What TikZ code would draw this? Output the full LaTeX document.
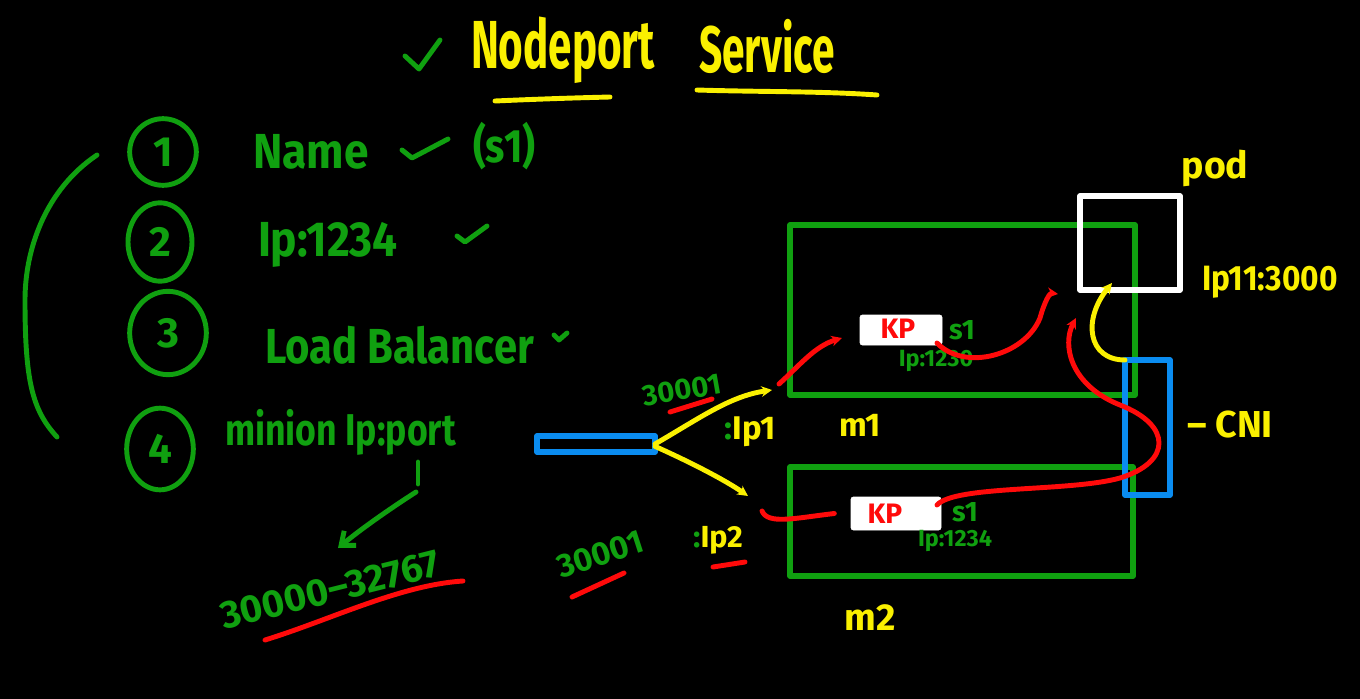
\documentclass[tikz,border=0pt]{standalone}
\usepackage{fontspec}
\setmainfont{Fira Sans}
\usetikzlibrary{shapes.geometric,arrows.meta}
\definecolor{hgreen}{RGB}{16,160,16}
\definecolor{hyellow}{RGB}{250,240,0}
\definecolor{hred}{RGB}{255,10,10}
\definecolor{hblue}{RGB}{10,140,240}
\begin{document}
\begin{tikzpicture}[x=0.03cm,y=-0.03cm,line cap=round,line join=round,
  pen/.style={line width=4.2pt},
  gpen/.style={pen,draw=hgreen},
  ypen/.style={pen,draw=hyellow},
  rpen/.style={pen,draw=hred},
  tipy/.style={-{Stealth[length=9pt,width=9pt]}},
  tipr/.style={-{Stealth[length=9pt,width=9pt]}},
  txt/.style={inner sep=0pt,outer sep=0pt,font=\bfseries\fontsize{#1}{#1}\selectfont},
  gtxt/.style={txt=#1,text=hgreen},
  ytxt/.style={txt=#1,text=hyellow},
  rtxt/.style={txt=#1,text=hred},
  num/.style={ellipse,draw=hgreen,line width=4.2pt,inner sep=0pt,text=hgreen,
    font=\bfseries\fontsize{36}{36}\selectfont},
  box/.style={rectangle,inner sep=0pt,outer sep=0pt,line width=4.8pt},
  machine/.style={box,draw=hgreen},
  kpbox/.style={box,fill=white,draw=white,line width=0.5pt,rounded corners=2pt},
]
\useasboundingbox (0,0) rectangle (1360,699);
\fill[black] (0,0) rectangle (1360,699);

% ---------- title ----------
\draw[gpen] (405,56) -- (419,69) -- (440,40);
\node[ytxt=58,xscale=0.62,transform shape] (ttl1) at (563,50) {Nodeport};
\node[ytxt=56,xscale=0.62,transform shape] (ttl2) at (767,46) {Service};
\draw[ypen] (495,101) .. controls (540,99) and (570,98) .. (610,97);
\draw[ypen] (697,90) .. controls (760,92) and (820,91) .. (877,95);

% ---------- left list ----------
\draw[gpen] (97,155) .. controls (45,190) and (25,250) .. (25,300)
               .. controls (25,380) and (32,410) .. (57,437);
\node[num,minimum width=2.0cm,minimum height=2.0cm] (n1) at (163,152) {1};
\node[num,minimum width=1.92cm,minimum height=2.35cm] (n2) at (160,242) {2};
\node[num,minimum width=2.3cm,minimum height=2.5cm] (n3) at (168,333) {3};
\node[num,minimum width=2.0cm,minimum height=2.45cm] (n4) at (160,449) {4};

\node[gtxt=42,anchor=west,xscale=0.9,transform shape] (t1) at (253,152) {Name};
\draw[gpen] (402,150) -- (412,158) -- (448,139);
\node[gtxt=40,anchor=west,xscale=0.85,transform shape] (t1b) at (473,146) {(s1)};

\node[gtxt=42,anchor=west,xscale=0.9,transform shape] (t2) at (258,245) {Ip:1234};
\draw[gpen] (457,236) -- (465,242) -- (487,226);

\node[gtxt=42,anchor=west,xscale=0.85,transform shape] (t3) at (265,345) {Load Balancer};
\draw[gpen] (554,335) -- (559,340) -- (567,333);

\node[gtxt=38,anchor=west,xscale=0.8,transform shape] (t4) at (225,432) {minion Ip:port};

\coordinate (a4top) at (418,462);
\coordinate (a4mid) at (418,484);
\coordinate (a4bend) at (416,492);
\coordinate (a4tip) at (338,548);
\draw[gpen] (a4top) -- (a4mid);
\draw[gpen,-{Straight Barb[length=10pt,width=16pt]}] (a4bend) .. controls (385,512) and (360,530) .. (a4tip);

\node[gtxt=33,rotate=14] (range) at (330,590) {30000--32767};
\draw[rpen] (265,640) .. controls (330,620) and (400,585) .. (463,581);

% ---------- load balancer and machines ----------
\node[box,draw=hblue,minimum width=3.54cm,minimum height=0.48cm] (lb) at (596,444) {};
\node[machine,minimum width=10.35cm,minimum height=5.1cm] (m1) at (962.5,310) {};
\node[machine,minimum width=10.29cm,minimum height=3.27cm] (m2) at (961.5,521.5) {};
\node[kpbox,minimum width=2.46cm,minimum height=0.9cm] (kp1) at (901,330) {};
\node[kpbox,minimum width=2.7cm,minimum height=0.99cm] (kp2) at (896,513.5) {};
\node[rtxt=24] (kp1t) at (898,329) {KP};
\node[rtxt=24] (kp2t) at (885,514) {KP};
\node[box,draw=white,minimum width=3cm,minimum height=2.82cm] (pod) at (1130,243) {};
\node[box,draw=hblue,minimum width=1.35cm,minimum height=4.05cm] (cni) at (1147.5,427.5) {};

\node[gtxt=24] (s1a) at (962,330) {s1};
\node[gtxt=20] (ipa) at (936,361) {Ip:1230};
\node[gtxt=24] (s1b) at (965,512) {s1};
\node[gtxt=20] (ipb) at (955,541) {Ip:1234};

\node[ytxt=28] (m1l) at (860,425) {m1};
\node[ytxt=32] (m2l) at (870,618) {m2};
\node[ytxt=32] (podl) at (1215,168) {pod};
\node[ytxt=30,xscale=0.9,transform shape] (podip) at (1270,282) {Ip11:3000};
\node[ytxt=32] (cnil) at (1230,425) {-- CNI};

\node[gtxt=25,rotate=10] (p1) at (682,390) {30001};
\draw[rpen] (670,412) -- (712,399);
\node[ytxt=28] (ip1l) at (750,432) {{\color{hgreen}:}Ip1};
\node[ytxt=26] (ip2l) at (718,540) {{\color{hgreen}:}Ip2};
\draw[rpen] (713,567) -- (745,562);
\node[gtxt=28,rotate=18] (p2) at (600,554) {30001};
\draw[rpen] (572,597) -- (624,573);

% ---------- connectors ----------
\coordinate (ip1end) at (772,390);
\coordinate (ip2end) at (748,496);
\draw[ypen,tipy] (lb.east) .. controls (700,418) and (730,396) .. (ip1end);
\draw[ypen,tipy] ([yshift=-2pt]lb.east) .. controls (690,462) and (725,480) .. (ip2end);

\coordinate (r1s) at (779,384);
\coordinate (r1e) at (842,338);
\draw[rpen,tipr] (r1s) .. controls (800,365) and (815,346) .. (r1e);

\coordinate (r2s) at (937,343);
\coordinate (r2e) at (1058,294);
\draw[rpen,tipr] (r2s) .. controls (965,372) and (1025,355) .. (1040,318)
   .. controls (1045,300) and (1050,293) .. (r2e);

\coordinate (r3s) at (762,511);
\draw[rpen] (r3s) .. controls (768,525) and (795,518) .. ([xshift=-0.5cm]kp2.west);

\coordinate (r4s) at (937,505);
\coordinate (r4e) at (1076,318);
\draw[rpen,tipr] (r4s) .. controls (955,485) and (1070,492) .. (1120,478)
   .. controls (1172,462) and (1172,425) .. (1120,405)
   .. controls (1070,385) and (1062,345) .. (r4e);

\coordinate (y3e) at (1112,283);
\draw[ypen,tipy] (cni.north west) .. controls (1088,360) and (1082,320) .. (y3e);
\end{tikzpicture}
\end{document}
